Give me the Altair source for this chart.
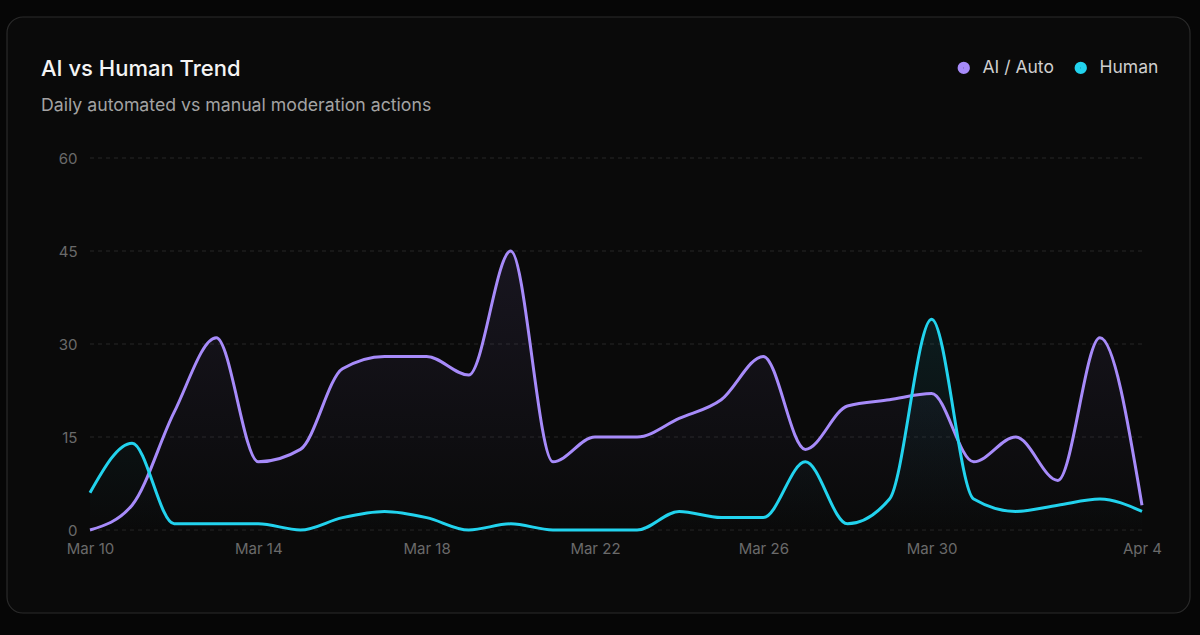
import altair as alt
import pandas as pd

# Daily moderation actions, Mar 10 – Apr 4
dates = pd.date_range("2025-03-10", "2025-04-04", freq="D").strftime("%Y-%m-%dT00:00:00").tolist()
ai_auto = [0, 4, 19, 31, 11, 13, 26, 28, 28, 25, 45, 11, 15, 15, 18, 21, 28, 13, 20, 21, 22, 11, 15, 8, 31, 4]
human = [6, 14, 1, 1, 1, 0, 2, 3, 2, 0, 1, 0, 0, 0, 3, 2, 2, 11, 1, 5, 34, 5, 3, 4, 5, 3]

series_names = ["AI / Auto", "Human"]
series_colors = ["#a78bfa", "#22d3ee"]
y_ticks = [0, 15, 30, 45, 60]
x_tick_dates = ["2025-03-10", "2025-03-14", "2025-03-18", "2025-03-22", "2025-03-26", "2025-03-30", "2025-04-04"]

title_text = "AI vs Human Trend"
subtitle_text = "Daily automated vs manual moderation actions"

FONT = "Inter"

df = pd.DataFrame({
    "date": dates * 2,
    "value": ai_auto + human,
    "series": [series_names[0]] * len(dates) + [series_names[1]] * len(dates),
})

W, H = 1052, 372

x_enc = alt.X(
    "date:T",
    title=None,
    scale=alt.Scale(padding=0, nice=False),
    axis=alt.Axis(
        values=[alt.DateTime(year=int(d[:4]), month=int(d[5:7]), date=int(d[8:10])) for d in x_tick_dates],
        format="%b %-d",
        grid=False, domain=False, ticks=False,
        labelFont=FONT, labelFontSize=15, labelColor="#6a6a6a",
        labelPadding=11, labelFlush=False, zindex=1,
    ),
)
y_scale = alt.Scale(domain=[0, 60], nice=False)
y_enc = alt.Y(
    "value:Q",
    title=None,
    scale=y_scale,
    axis=alt.Axis(
        values=y_ticks,
        grid=False, domain=False, ticks=False,
        labelFont=FONT, labelFontSize=15, labelColor="#6a6a6a",
        labelPadding=13, zindex=1,
    ),
)

base = alt.Chart(df)

# card behind the plot
card = alt.Chart(pd.DataFrame({"k": [0]})).mark_rect(
    fill="#0a0a0a", stroke="#2a2a2a", strokeWidth=1.2, cornerRadius=16,
).encode(
    x=alt.value(-83), x2=alt.value(1100), y=alt.value(-141), y2=alt.value(455),
)

# dashed horizontal gridlines at each y tick
grid = alt.Chart(pd.DataFrame({"value": y_ticks})).mark_rule(
    color="#262626", strokeDash=[4, 4], strokeWidth=1,
).encode(
    y=y_enc,
    x=alt.value(0), x2=alt.value(W),
)


def fade(color):
    return alt.Gradient(
        gradient="linear",
        stops=[alt.GradientStop(color=color, offset=0), alt.GradientStop(color="#0a0a0a", offset=1)],
        x1=1, x2=1, y1=0, y2=1,
    )


area_ai = base.transform_filter(alt.datum.series == series_names[0]).mark_area(
    interpolate="monotone", color=fade(series_colors[0]), opacity=0.09,
).encode(x=x_enc, y=y_enc)

area_h = base.transform_filter(alt.datum.series == series_names[1]).mark_area(
    interpolate="monotone", color=fade(series_colors[1]), opacity=0.09,
).encode(x=x_enc, y=y_enc)

# legend dots: a thick stroke on a small circle reads as a solid dot
lines = base.mark_line(interpolate="monotone", strokeWidth=3).encode(
    x=x_enc,
    y=y_enc,
    color=alt.Color(
        "series:N",
        scale=alt.Scale(domain=series_names, range=series_colors),
        legend=alt.Legend(
            title=None, orient="none", direction="horizontal",
            legendX=865, legendY=-99,
            symbolType="circle", symbolSize=34, symbolStrokeWidth=6.5, symbolOpacity=1,
            labelFont=FONT, labelFontSize=17.5, labelColor="#cfcfcf",
            labelOffset=10, columnPadding=10, padding=0,
        ),
    ),
)

one = pd.DataFrame({"k": [0]})
title = alt.Chart(one).mark_text(
    text=title_text, align="left", baseline="alphabetic",
    font=FONT, fontSize=22, fontWeight=500, color="#f4f4f4",
).encode(x=alt.value(-49), y=alt.value(-82))

subtitle = alt.Chart(one).mark_text(
    text=subtitle_text, align="left", baseline="alphabetic",
    font=FONT, fontSize=17.7, color="#a3a3a3",
).encode(x=alt.value(-49), y=alt.value(-47))

chart = alt.layer(card, grid, area_ai, area_h, lines, title, subtitle).properties(
    width=W, height=H,
    background="#060606",
    padding={"left": 90, "top": 158, "right": 58, "bottom": 105},
    autosize=alt.AutoSizeParams(type="none"),
).configure_view(stroke=None)

chart.save("out.html", embed_options={"renderer": "svg", "actions": False})
